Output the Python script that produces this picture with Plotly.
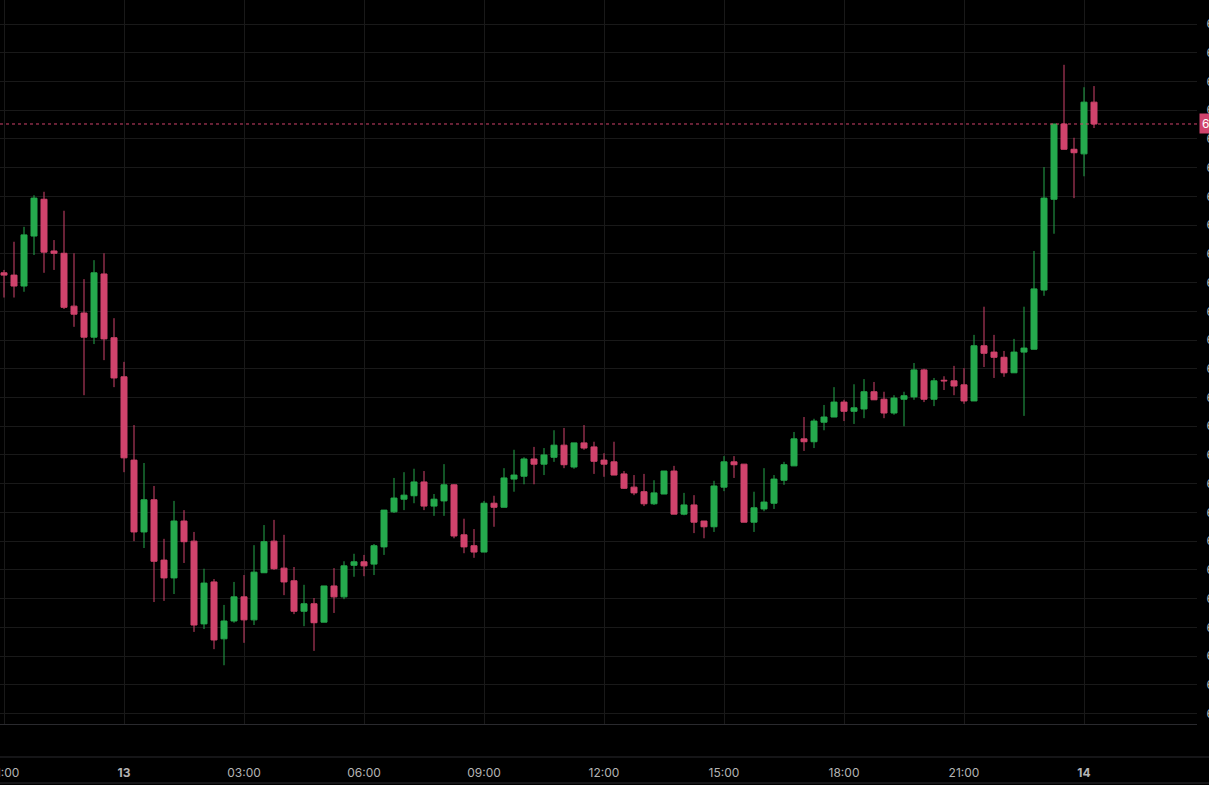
import plotly.graph_objects as go
import pandas as pd

start_time = "2024-10-12 21:00"
opens = [62967, 62963, 62944, 63031, 63095, 63005, 63001, 62909, 62897, 62855,
         62965, 62854, 62786, 62641, 62516, 62572, 62467, 62436, 62535, 62500,
         62356, 62429, 62330, 62361, 62403, 62363, 62445, 62500, 62453, 62431,
         62378, 62391, 62359, 62422, 62403, 62458, 62464, 62460, 62490, 62551,
         62573, 62579, 62603, 62561, 62570, 62598, 62511, 62492, 62481, 62566,
         62559, 62608, 62613, 62643, 62634, 62646, 62667, 62629, 62671, 62664,
         62641, 62638, 62617, 62594, 62586, 62565, 62582, 62622, 62547, 62563,
         62535, 62525, 62594, 62638, 62634, 62533, 62556, 62566, 62606, 62631,
         62678, 62673, 62707, 62716, 62742, 62726, 62730, 62760, 62747, 62723,
         62747, 62751, 62798, 62747, 62780, 62779, 62772, 62744, 62840, 62829,
         62820, 62793, 62829, 62834, 62937, 63095, 63226, 63182, 63174, 63264]
highs = [62972, 63021, 63047, 63102, 63108, 63024, 63075, 63001, 62956, 62989,
         63001, 62888, 62812, 62702, 62636, 62596, 62504, 62570, 62554, 62516,
         62452, 62434, 62389, 62429, 62441, 62493, 62528, 62537, 62511, 62455,
         62424, 62401, 62422, 62453, 62465, 62478, 62476, 62495, 62554, 62610,
         62620, 62626, 62622, 62582, 62634, 62599, 62539, 62521, 62570, 62579,
         62627, 62659, 62646, 62664, 62662, 62693, 62697, 62671, 62702, 62673,
         62653, 62673, 62622, 62615, 62617, 62606, 62622, 62631, 62584, 62580,
         62535, 62605, 62648, 62648, 62634, 62586, 62627, 62615, 62638, 62690,
         62716, 62713, 62737, 62768, 62746, 62773, 62782, 62777, 62760, 62754,
         62760, 62810, 62800, 62784, 62787, 62805, 62801, 62859, 62908, 62859,
         62831, 62852, 62908, 63005, 63151, 63226, 63329, 63202, 63290, 63292]
lows = [62924, 62924, 62934, 62998, 62967, 62972, 62904, 62873, 62754, 62843,
        62815, 62768, 62620, 62500, 62488, 62394, 62396, 62408, 62462, 62342,
        62347, 62312, 62284, 62358, 62323, 62354, 62445, 62450, 62406, 62373,
        62352, 62309, 62359, 62375, 62399, 62438, 62439, 62441, 62476, 62549,
        62554, 62566, 62554, 62544, 62544, 62505, 62479, 62471, 62481, 62525,
        62559, 62586, 62599, 62599, 62615, 62638, 62627, 62626, 62659, 62617,
        62612, 62615, 62591, 62580, 62561, 62563, 62582, 62547, 62545, 62514,
        62505, 62516, 62587, 62610, 62533, 62516, 62552, 62556, 62598, 62631,
        62657, 62662, 62693, 62716, 62709, 62704, 62714, 62746, 62714, 62720,
        62700, 62746, 62742, 62735, 62763, 62754, 62739, 62744, 62803, 62784,
        62786, 62793, 62718, 62834, 62927, 63035, 63182, 63097, 63135, 63219]
closes = [62963, 62944, 63033, 63097, 63003, 63001, 62907, 62895, 62855, 62967,
          62852, 62784, 62645, 62516, 62572, 62465, 62436, 62535, 62499, 62354,
          62427, 62328, 62361, 62403, 62363, 62446, 62499, 62452, 62429, 62378,
          62391, 62358, 62422, 62403, 62457, 62464, 62457, 62492, 62554, 62575,
          62580, 62603, 62561, 62573, 62598, 62509, 62490, 62481, 62566, 62559,
          62610, 62615, 62643, 62634, 62650, 62667, 62633, 62671, 62662, 62639,
          62634, 62615, 62592, 62584, 62565, 62584, 62622, 62547, 62563, 62533,
          62525, 62596, 62638, 62633, 62533, 62558, 62568, 62608, 62633, 62678,
          62673, 62709, 62716, 62742, 62726, 62732, 62760, 62746, 62723, 62749,
          62753, 62798, 62747, 62779, 62779, 62770, 62744, 62840, 62827, 62820,
          62793, 62829, 62836, 62939, 63097, 63226, 63182, 63176, 63264, 63226]

x_tick_times = ["2024-10-12 21:00", "2024-10-13 00:00", "2024-10-13 03:00",
                "2024-10-13 06:00", "2024-10-13 09:00", "2024-10-13 12:00",
                "2024-10-13 15:00", "2024-10-13 18:00", "2024-10-13 21:00",
                "2024-10-14 00:00"]
x_tick_labels = ["21:00", "<b>13</b>", "03:00", "06:00", "09:00", "12:00",
                 "15:00", "18:00", "21:00", "<b>14</b>"]
y_tick_values = list(range(62200, 63401, 50))
y_tick_labels = [f"{v:,.2f}" for v in y_tick_values]

times = pd.date_range(start_time, periods=len(opens), freq="15min")
last_price = closes[-1]

GREEN = "#25a94d"
RED = "#d0436c"
GRID = "#191919"
TXT = "#b4b4b4"
FONT = "Inter, Roboto, sans-serif"

fig = go.Figure(go.Candlestick(
    x=times, open=opens, high=highs, low=lows, close=closes,
    increasing=dict(line=dict(color=GREEN, width=1), fillcolor=GREEN),
    decreasing=dict(line=dict(color=RED, width=1), fillcolor=RED),
    whiskerwidth=0, hoverinfo="skip", showlegend=False,
))

fig.update_layout(
    width=1209, height=785,
    margin=dict(l=0, r=12, t=0, b=61, pad=0),
    paper_bgcolor="#000000", plot_bgcolor="#000000",
    boxgap=0.4, boxgroupgap=0,
    showlegend=False, hovermode=False,
    font=dict(family=FONT, size=12, color=TXT),
)
fig.update_xaxes(
    type="date",
    range=["2024-10-12 20:54:00", "2024-10-14 02:49:30"],
    tickvals=x_tick_times, ticktext=x_tick_labels,
    showgrid=True, gridcolor=GRID, gridwidth=1,
    ticks="outside", ticklen=38, tickcolor="rgba(0,0,0,0)",
    tickfont=dict(family=FONT, size=12, color=TXT),
    ticklabeloverflow="allow",
    showline=True, linecolor="#2a2a2e", linewidth=1,
    zeroline=False, rangeslider=dict(visible=False), automargin=False,
)
fig.update_yaxes(
    side="right",
    range=[62181.75, 63441.8],
    tickvals=y_tick_values, ticktext=y_tick_labels,
    showgrid=True, gridcolor=GRID, gridwidth=1,
    ticks="outside", ticklen=6, tickcolor="rgba(0,0,0,0)",
    tickfont=dict(family=FONT, size=12, color=TXT),
    ticklabeloverflow="allow",
    showline=False, zeroline=False, automargin=False,
)

# separator lines of the (empty) lower pane and the time scale
for yp in [-0.0456, -0.0815]:
    fig.add_shape(type="line", xref="paper", yref="paper", x0=0, x1=1.02,
                  y0=yp, y1=yp, line=dict(color="#2a2a2e", width=1))

# last price line and label
fig.add_shape(type="line", xref="paper", yref="y", x0=0, x1=1,
              y0=last_price, y1=last_price,
              line=dict(color=RED, width=1, dash="dot"))
fig.add_annotation(xref="paper", yref="y", x=1, y=last_price, xshift=2,
                   xanchor="left", yanchor="middle", showarrow=False,
                   text=f"{last_price:,.2f}", bgcolor=RED, borderpad=2,
                   font=dict(family=FONT, size=12, color="#ffffff"))

fig.write_html(
    "out.html",
    config={"displayModeBar": False},
    post_script="document.body.style.margin='0';document.body.style.overflow='hidden';document.body.style.background='#000';",
)
